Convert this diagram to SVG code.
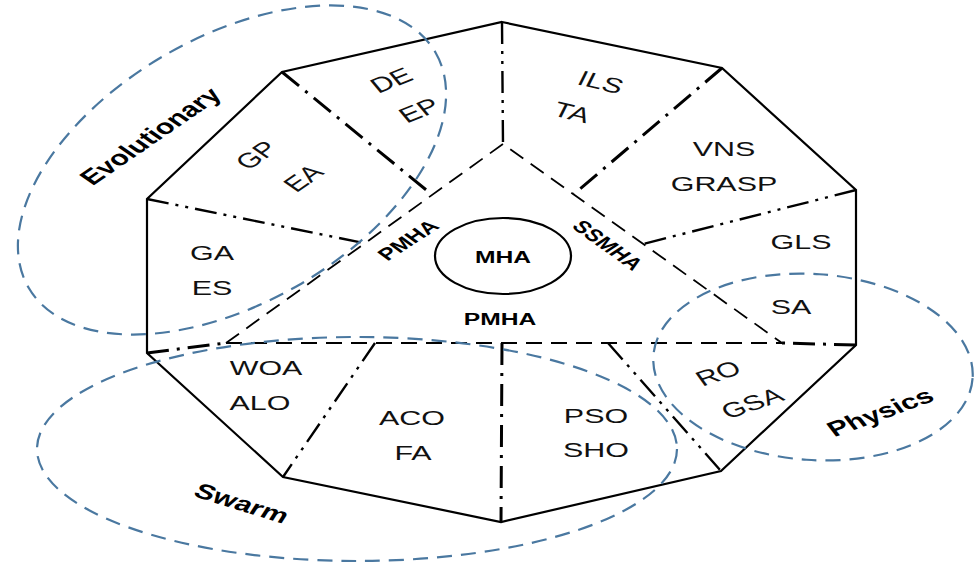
<svg xmlns="http://www.w3.org/2000/svg" width="976" height="564" viewBox="0 0 976 564">
  <style>
    .edge { fill: none; stroke: #000; stroke-width: 2.2; stroke-linejoin: miter; }
    .tri { fill: none; stroke: #000; stroke-width: 1.8; stroke-dasharray: 16 9; }
    .dd { fill: none; stroke: #000; stroke-width: 3; stroke-dasharray: 22 8 3 8; }
    .ddd { fill: none; stroke: #000; stroke-width: 2.4; stroke-dasharray: 22 7 3 7 3 7; }
    .grp { fill: none; stroke: #4a78a0; stroke-width: 2.2; stroke-dasharray: 15 9; }
    .lbl { font-family: "Liberation Sans", Arial, sans-serif; font-size: 21px; fill: #111; text-anchor: middle; }
    .cat { font-family: "Liberation Sans", Arial, sans-serif; font-size: 21px; font-weight: bold; fill: #000; text-anchor: middle; }
    .core { font-family: "Liberation Sans", Arial, sans-serif; font-size: 17px; font-weight: bold; fill: #000; text-anchor: middle; }
  </style>

  <!-- outer decagon -->
  <g id="decagon">
    <polygon class="edge" points="502,22 722,68 856,190 856,345 721,471 501,522 283,477 147,353 147,199 282,72"/>
  </g>

  <!-- inner triangle and sector dividers -->
  <g id="connectors">
    <polyline class="tri" points="226,343 503,144 782,343"/>
    <line class="tri" x1="226" y1="343" x2="782" y2="343"/>
    <line class="ddd" x1="502" y1="22" x2="503" y2="144"/>
    <line class="dd" x1="282" y1="72" x2="430" y2="193"/>
    <line class="ddd" x1="147" y1="199" x2="364" y2="243"/>
    <line class="dd" x1="722" y1="68" x2="574" y2="194"/>
    <line class="ddd" x1="856" y1="190" x2="643" y2="244"/>
    <line class="dd" x1="856" y1="345" x2="782" y2="343"/>
    <line class="dd" x1="502" y1="343" x2="501" y2="522"/>
    <line class="ddd" x1="608" y1="343" x2="721" y2="471"/>
    <line class="ddd" x1="375" y1="343" x2="283" y2="477"/>
    <line class="dd" x1="147" y1="353" x2="226" y2="343"/>
  </g>

  <!-- centre -->
  <g id="mha">
    <ellipse cx="503" cy="256" rx="68" ry="38" fill="none" stroke="#000" stroke-width="2.2"/>
    <text class="core" transform="translate(503,257) scale(1.45,1)" y="6">MHA</text>
  </g>
  <g id="pmha-bottom">
    <text class="core" transform="translate(500,319) scale(1.45,1)" y="6">PMHA</text>
  </g>
  <g id="pmha-left">
    <text class="core" transform="translate(408,240) scale(1.45,1) rotate(-43)" y="6">PMHA</text>
  </g>
  <g id="ssmha">
    <text class="core" transform="translate(608,245) scale(1.45,1) rotate(46)" y="6">SSMHA</text>
  </g>

  <!-- sectors -->
  <g id="sector-de-ep">
    <text class="lbl" transform="translate(391,80) scale(1.45,1) rotate(-30)" y="7.5">DE</text>
    <text class="lbl" transform="translate(419,110) scale(1.45,1) rotate(-30)" y="7.5">EP</text>
  </g>
  <g id="sector-gp-ea">
    <text class="lbl" transform="translate(256,155) scale(1.45,1) rotate(-45)" y="7.5">GP</text>
    <text class="lbl" transform="translate(303,178) scale(1.45,1) rotate(-45)" y="7.5">EA</text>
  </g>
  <g id="sector-ga-es">
    <text class="lbl" transform="translate(212,252) scale(1.45,1)" y="7.5">GA</text>
    <text class="lbl" transform="translate(212,287) scale(1.45,1)" y="7.5">ES</text>
  </g>
  <g id="sector-ils-ta">
    <text class="lbl" transform="translate(601,82) scale(1.45,1) rotate(19)" y="7.5">ILS</text>
    <text class="lbl" transform="translate(572,112) scale(1.45,1) rotate(19)" y="7.5">TA</text>
  </g>
  <g id="sector-vns-grasp">
    <text class="lbl" transform="translate(724,148) scale(1.45,1)" y="7.5">VNS</text>
    <text class="lbl" transform="translate(724,183) scale(1.45,1)" y="7.5">GRASP</text>
  </g>
  <g id="sector-gls">
    <text class="lbl" transform="translate(801,241) scale(1.45,1)" y="7.5">GLS</text>
  </g>
  <g id="sector-sa">
    <text class="lbl" transform="translate(791,306) scale(1.45,1)" y="7.5">SA</text>
  </g>
  <g id="sector-ro-gsa">
    <text class="lbl" transform="translate(718,373) scale(1.45,1) rotate(-26.5)" y="7.5">RO</text>
    <text class="lbl" transform="translate(752,403) scale(1.45,1) rotate(-26.5)" y="7.5">GSA</text>
  </g>
  <g id="sector-pso-sho">
    <text class="lbl" transform="translate(596,415) scale(1.45,1)" y="7.5">PSO</text>
    <text class="lbl" transform="translate(596,449) scale(1.45,1)" y="7.5">SHO</text>
  </g>
  <g id="sector-aco-fa">
    <text class="lbl" transform="translate(412,417) scale(1.45,1)" y="7.5">ACO</text>
    <text class="lbl" transform="translate(413,452) scale(1.45,1)" y="7.5">FA</text>
  </g>
  <g id="sector-woa-alo">
    <text class="lbl" transform="translate(266,367) scale(1.45,1)" y="7.5">WOA</text>
    <text class="lbl" transform="translate(260,402) scale(1.45,1)" y="7.5">ALO</text>
  </g>

  <!-- family groupings -->
  <g id="evolutionary">
    <ellipse class="grp" cx="0" cy="0" rx="235" ry="133" transform="translate(232,170) rotate(-30)"/>
    <text class="cat" transform="translate(150,136) scale(1.45,1) rotate(-45)" y="7.5">Evolutionary</text>
  </g>
  <g id="swarm">
    <ellipse class="grp" cx="357" cy="449" rx="320" ry="112"/>
    <text class="cat" transform="translate(242,503) scale(1.45,1) rotate(24)" y="7.5">Swarm</text>
  </g>
  <g id="physics">
    <ellipse class="grp" cx="0" cy="0" rx="160" ry="93" transform="translate(813,367) rotate(4)"/>
    <text class="cat" transform="translate(880,412) scale(1.45,1) rotate(-28)" y="7.5">Physics</text>
  </g>
</svg>
